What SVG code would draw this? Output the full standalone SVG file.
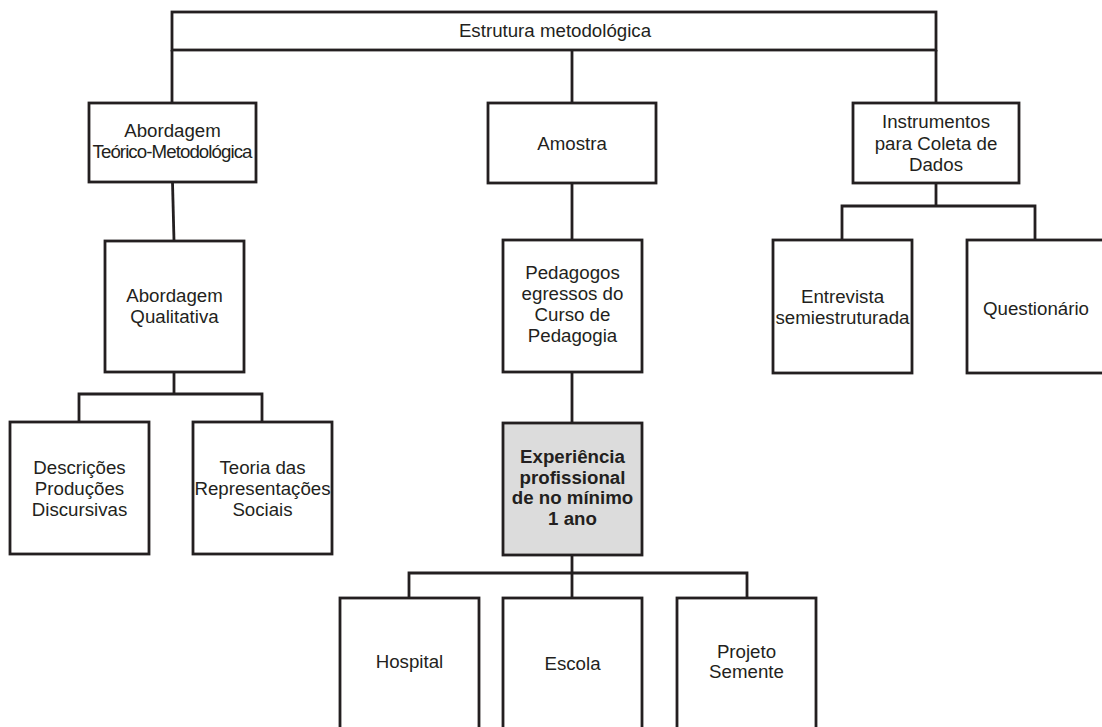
<svg xmlns="http://www.w3.org/2000/svg" width="1102" height="727" viewBox="0 0 1102 727">
  <style>
    .box { fill: #ffffff; stroke: #231f20; stroke-width: 2.8; }
    .hl { fill: #dcdcdc; stroke: #231f20; stroke-width: 2.8; }
    .lbl { font-family: "Liberation Sans", Arial, sans-serif; font-size: 18.7px; fill: #231f20; text-anchor: middle; }
    .bold { font-weight: bold; }
    #connectors path { fill: none; stroke: #231f20; stroke-width: 2.8; }
  </style>
  <rect width="1102" height="727" fill="#ffffff"/>

  <g id="connectors">
    <path d="M172 50 V103 M572 50 V103 M936 50 V103"/>
    <path d="M172.5 182 L174 241"/>
    <path d="M174 372 V394 M79 422 V394 H262 V422"/>
    <path d="M572 183 V240 M572 372 V423 M572 555 V598 M409 598 V573 H747 V598"/>
    <path d="M936 183 V206 M842 240 V206 H1035 V240"/>
  </g>

  <g id="estrutura">
    <rect class="box" x="172" y="12" width="764" height="38"/>
    <text class="lbl" x="555" y="37">Estrutura metodológica</text>
  </g>

  <g id="abordagem-teorico">
    <rect class="box" x="89" y="103" width="167" height="79"/>
    <text class="lbl" x="172.5" y="137">Abordagem</text>
    <text class="lbl" x="172.5" y="158" textLength="160" lengthAdjust="spacing">Teórico-Metodológica</text>
  </g>

  <g id="amostra">
    <rect class="box" x="488" y="103" width="168" height="80"/>
    <text class="lbl" x="572" y="150">Amostra</text>
  </g>

  <g id="instrumentos">
    <rect class="box" x="853" y="103" width="166" height="80"/>
    <text class="lbl" x="936" y="128">Instrumentos</text>
    <text class="lbl" x="936" y="150">para Coleta de</text>
    <text class="lbl" x="936" y="171">Dados</text>
  </g>

  <g id="abordagem-qualitativa">
    <rect class="box" x="105" y="241" width="139" height="131"/>
    <text class="lbl" x="174.5" y="302">Abordagem</text>
    <text class="lbl" x="174.5" y="323">Qualitativa</text>
  </g>

  <g id="pedagogos">
    <rect class="box" x="503" y="240" width="139" height="132"/>
    <text class="lbl" x="572.5" y="279">Pedagogos</text>
    <text class="lbl" x="572.5" y="300">egressos do</text>
    <text class="lbl" x="572.5" y="321">Curso de</text>
    <text class="lbl" x="572.5" y="342">Pedagogia</text>
  </g>

  <g id="entrevista">
    <rect class="box" x="773" y="240" width="139" height="133"/>
    <text class="lbl" x="842.5" y="303">Entrevista</text>
    <text class="lbl" x="842.5" y="324">semiestruturada</text>
  </g>

  <g id="questionario">
    <rect class="box" x="967" y="240" width="139" height="133"/>
    <text class="lbl" x="1036" y="315">Questionário</text>
  </g>

  <g id="descricoes">
    <rect class="box" x="10" y="422" width="139" height="132"/>
    <text class="lbl" x="79.5" y="474">Descrições</text>
    <text class="lbl" x="79.5" y="495">Produções</text>
    <text class="lbl" x="79.5" y="516">Discursivas</text>
  </g>

  <g id="teoria">
    <rect class="box" x="193" y="422" width="139" height="132"/>
    <text class="lbl" x="262.5" y="474">Teoria das</text>
    <text class="lbl" x="262.5" y="495">Representações</text>
    <text class="lbl" x="262.5" y="516">Sociais</text>
  </g>

  <g id="experiencia">
    <rect class="hl" x="503" y="423" width="139" height="132"/>
    <text class="lbl bold" x="572.5" y="463">Experiência</text>
    <text class="lbl bold" x="572.5" y="484">profissional</text>
    <text class="lbl bold" x="572.5" y="504">de no mínimo</text>
    <text class="lbl bold" x="572.5" y="525">1 ano</text>
  </g>

  <g id="hospital">
    <rect class="box" x="340" y="598" width="139" height="140"/>
    <text class="lbl" x="409.5" y="668">Hospital</text>
  </g>

  <g id="escola">
    <rect class="box" x="503" y="598" width="139" height="140"/>
    <text class="lbl" x="572.5" y="670">Escola</text>
  </g>

  <g id="projeto">
    <rect class="box" x="677" y="598" width="139" height="140"/>
    <text class="lbl" x="746.5" y="658">Projeto</text>
    <text class="lbl" x="746.5" y="678">Semente</text>
  </g>
</svg>
